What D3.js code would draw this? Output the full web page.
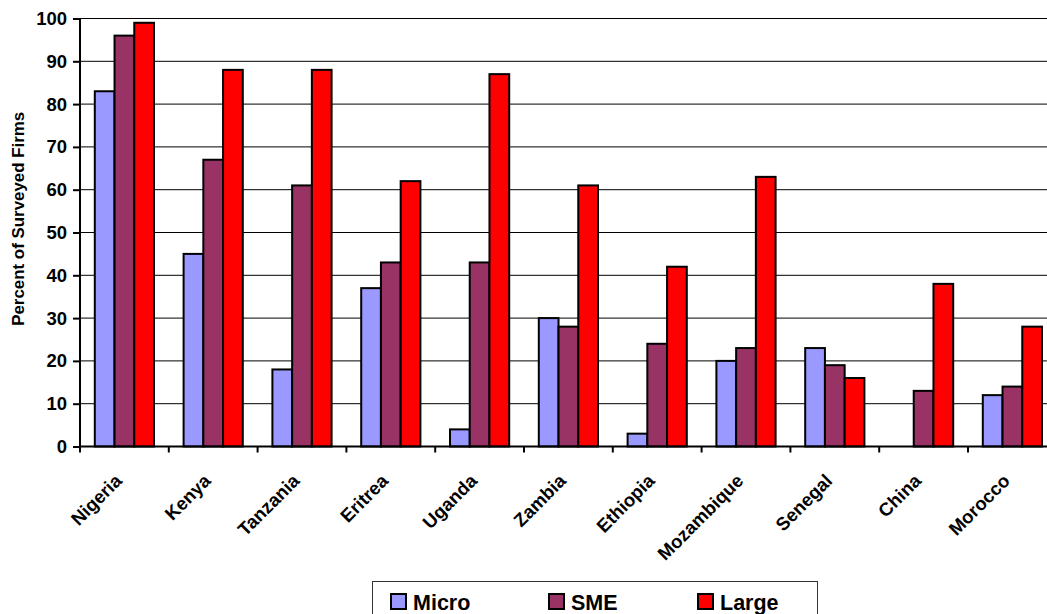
<!DOCTYPE html>
<html>
<head>
<meta charset="utf-8">
<script src="https://cdn.jsdelivr.net/npm/d3@7"></script>
<style>
  html, body { margin: 0; padding: 0; background: #fff; }
  svg { display: block; }
  text { font-family: "Liberation Sans", Arial, sans-serif; font-weight: bold; fill: #000; }
</style>
</head>
<body>
<script>
const categories = ["Nigeria", "Kenya", "Tanzania", "Eritrea", "Uganda", "Zambia", "Ethiopia", "Mozambique", "Senegal", "China", "Morocco"];
const seriesNames = ["Micro", "SME", "Large"];
const microValues = [83, 45, 18, 37, 4, 30, 3, 20, 23, null, 12];
const smeValues   = [96, 67, 61, 43, 43, 28, 24, 23, 19, 13, 14];
const largeValues = [99, 88, 88, 62, 87, 61, 42, 63, 16, 38, 28];
const seriesColors = ["#9999FF", "#993366", "#FF0000"];
const yTicks = [0, 10, 20, 30, 40, 50, 60, 70, 80, 90, 100];
const yLabel = "Percent of Surveyed Firms";

const series = [microValues, smeValues, largeValues];

const W = 1047, H = 614;
const plotLeft = 80, catW = 88.8, plotTop = 18.5, plotBottom = 446.5;

const svg = d3.select("body").append("svg").attr("width", W).attr("height", H);

const x = d3.scaleBand().domain(categories).range([plotLeft, plotLeft + catW * categories.length]).paddingInner(0).paddingOuter(0);
const xs = d3.scaleBand().domain(seriesNames).range([0, x.bandwidth()]).paddingInner(0).paddingOuter(0.75);
const y = d3.scaleLinear().domain([0, 100]).range([plotBottom, plotTop]);

// gridlines
svg.append("g").selectAll("line").data(yTicks.filter(d => d > 0)).join("line")
  .attr("x1", plotLeft).attr("x2", W)
  .attr("y1", d => y(d)).attr("y2", d => y(d))
  .attr("stroke", "#000").attr("stroke-width", 1);

// bars
const groups = svg.append("g").selectAll("g").data(categories).join("g")
  .attr("transform", d => `translate(${x(d)},0)`);
groups.selectAll("rect")
  .data((c, i) => seriesNames.map((s, j) => ({ s, v: series[j][i], color: seriesColors[j] })).filter(d => d.v !== null))
  .join("rect")
  .attr("x", d => xs(d.s))
  .attr("width", xs.bandwidth())
  .attr("y", d => y(d.v))
  .attr("height", d => y(0) - y(d.v))
  .attr("fill", d => d.color)
  .attr("stroke", "#000").attr("stroke-width", 2);

// y axis
const yAxis = d3.axisLeft(y).tickValues(yTicks).tickSize(7).tickPadding(6);
const gy = svg.append("g").attr("transform", `translate(${plotLeft},0)`).call(yAxis);
gy.select(".domain").attr("stroke", "#000").attr("stroke-width", 2).attr("d", `M0,${plotTop}V${plotBottom}`);
gy.selectAll(".tick line").attr("stroke", "#000").attr("stroke-width", 2);
gy.selectAll(".tick text").style("font-size", "18.5px").style("font-family", '"Liberation Sans", Arial, sans-serif').style("font-weight", "bold").attr("fill", "#000");

// x axis
const xAxis = d3.axisBottom(x).tickSize(0).tickFormat("");
const gx = svg.append("g").attr("transform", `translate(0,${plotBottom})`).call(xAxis);
gx.select(".domain").attr("stroke", "#000").attr("stroke-width", 2).attr("d", `M${plotLeft},0H${W}`);
const bounds = d3.range(categories.length + 1).map(i => plotLeft + i * x.step());
gx.selectAll("line.bt").data(bounds).join("line").attr("class", "bt")
  .attr("x1", d => d).attr("x2", d => d).attr("y1", 0).attr("y2", 6)
  .attr("stroke", "#000").attr("stroke-width", 2);

// x labels rotated
svg.append("g").selectAll("text").data(categories).join("text")
  .attr("transform", d => `translate(${x(d) + x.bandwidth() / 2 - 6},${plotBottom + 31}) rotate(-45)`)
  .attr("text-anchor", "end")
  .attr("dy", "0.35em")
  .style("font-size", "18.5px")
  .text(d => d);

// y label
svg.append("text")
  .attr("transform", `translate(24,${y(53.2)}) rotate(-90)`)
  .attr("text-anchor", "middle")
  .style("font-size", "16.9px")
  .text(yLabel);

// legend
const lg = svg.append("g");
lg.append("rect").attr("x", 372.5).attr("y", 581.5).attr("width", 445).attr("height", 60)
  .attr("fill", "#fff").attr("stroke", "#333").attr("stroke-width", 1);
const legendX = [391, 549, 698];
seriesNames.forEach((s, i) => {
  lg.append("rect").attr("x", legendX[i]).attr("y", 594).attr("width", 15).attr("height", 15)
    .attr("fill", seriesColors[i]).attr("stroke", "#000").attr("stroke-width", 2);
  lg.append("text").attr("x", legendX[i] + 22).attr("y", 610).style("font-size", "21.5px").text(s);
});
</script>
</body>
</html>
